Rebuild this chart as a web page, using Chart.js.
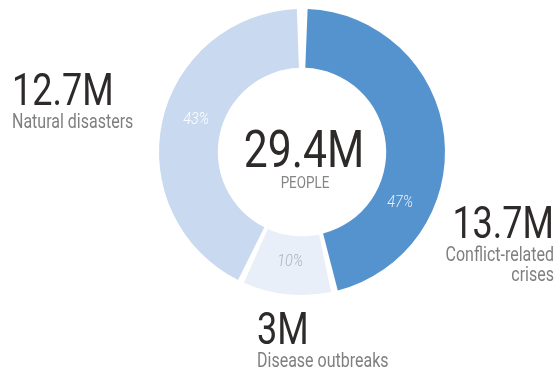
<!DOCTYPE html>
<html>
<head>
<meta charset="utf-8">
<script src="https://cdn.jsdelivr.net/npm/chart.js@4.4.0/dist/chart.umd.min.js"></script>
<style>
  html, body { margin: 0; padding: 0; background: #fff; }
  #wrap { width: 559px; height: 368px; position: relative; }
</style>
</head>
<body>
<div id="wrap"><canvas id="donut"></canvas></div>
<script>
// data
var categories = ['Conflict-related crises', 'Disease outbreaks', 'Natural disasters']
var values = [13.7, 3, 12.7]            // millions of people
var valueLabels = ['13.7M', '3M', '12.7M']
var totalLabel = '29.4M'
var totalUnit = 'PEOPLE'

var colors = ['#5593cf', '#e9eff9', '#c9d9f0']
var pctColors = ['#e8f0fb', '#aab3c0', '#ffffff']

// draw text squeezed sideways (the original uses a condensed face)
function condText(ctx, text, x, y, align, sx) {
  ctx.save()
  ctx.translate(x, y)
  ctx.scale(sx, 1)
  ctx.textAlign = align
  ctx.fillText(text, 0, 0)
  ctx.restore()
}

var textPlugin = {
  id: 'donutText',
  afterDraw: function(chart, args, opts) {
    var ctx = chart.ctx
    var meta = chart.getDatasetMeta(0)
    var total = values.reduce(function(a, b) { return a + b }, 0)
    ctx.save()

    // percentages inside the ring
    ctx.textBaseline = 'middle'
    meta.data.forEach(function(arc, i) {
      var p = arc.getProps(['x', 'y', 'startAngle', 'endAngle', 'innerRadius', 'outerRadius'], true)
      var a = p.startAngle + opts.angleFrac[i] * (p.endAngle - p.startAngle)
      var r = p.innerRadius + 0.5 * (p.outerRadius - p.innerRadius)
      ctx.fillStyle = pctColors[i]
      ctx.font = 'italic 300 17px Roboto'
      condText(ctx, Math.round(values[i] / total * 100) + '%', p.x + Math.cos(a) * r, p.y + Math.sin(a) * r, 'center', 0.85)
    })
    ctx.textBaseline = 'alphabetic'

    // centre total
    var c = meta.data[0]
    ctx.fillStyle = '#2d2a29'
    ctx.font = '400 52px Roboto'
    condText(ctx, totalLabel, c.x + 2, c.y + 15, 'center', 0.82)
    ctx.fillStyle = '#858585'
    ctx.font = '400 16px Roboto'
    condText(ctx, totalUnit, c.x + 3, c.y + 36, 'center', 0.84)

    // outside labels
    opts.labels.forEach(function(l) {
      var i = categories.indexOf(l.cat)
      ctx.fillStyle = '#2d2a29'
      ctx.font = '400 45px Roboto'
      condText(ctx, valueLabels[i], l.x, l.y, l.align, 0.8)
      ctx.fillStyle = '#7f7f7f'
      ctx.font = '400 20px Roboto'
      l.lines.forEach(function(t, k) {
        condText(ctx, t, l.x, l.y + 23 + k * 20, l.align, 0.8)
      })
    })
    ctx.restore()
  }
}

var chart = new Chart(document.getElementById('donut'), {
  type: 'doughnut',
  data: {
    labels: categories,
    datasets: [{
      data: values,
      backgroundColor: colors,
      borderWidth: 0,
      hoverOffset: 0
    }]
  },
  options: {
    responsive: true,
    maintainAspectRatio: false,
    animation: false,
    cutout: '58%',
    spacing: 6,
    layout: { padding: { left: 159, right: 114, top: 9, bottom: 73 } },
    events: [],
    plugins: {
      legend: { display: false },
      tooltip: { enabled: false },
      donutText: {
        angleFrac: [0.7, 0.5, 0.53],
        labels: [
          { cat: 'Natural disasters', x: 12, y: 105, align: 'left', lines: ['Natural disasters'] },
          { cat: 'Conflict-related crises', x: 554, y: 238, align: 'right', lines: ['Conflict-related', 'crises'] },
          { cat: 'Disease outbreaks', x: 257, y: 344, align: 'left', lines: ['Disease outbreaks'] }
        ]
      }
    }
  },
  plugins: [textPlugin]
})
</script>
</body>
</html>
